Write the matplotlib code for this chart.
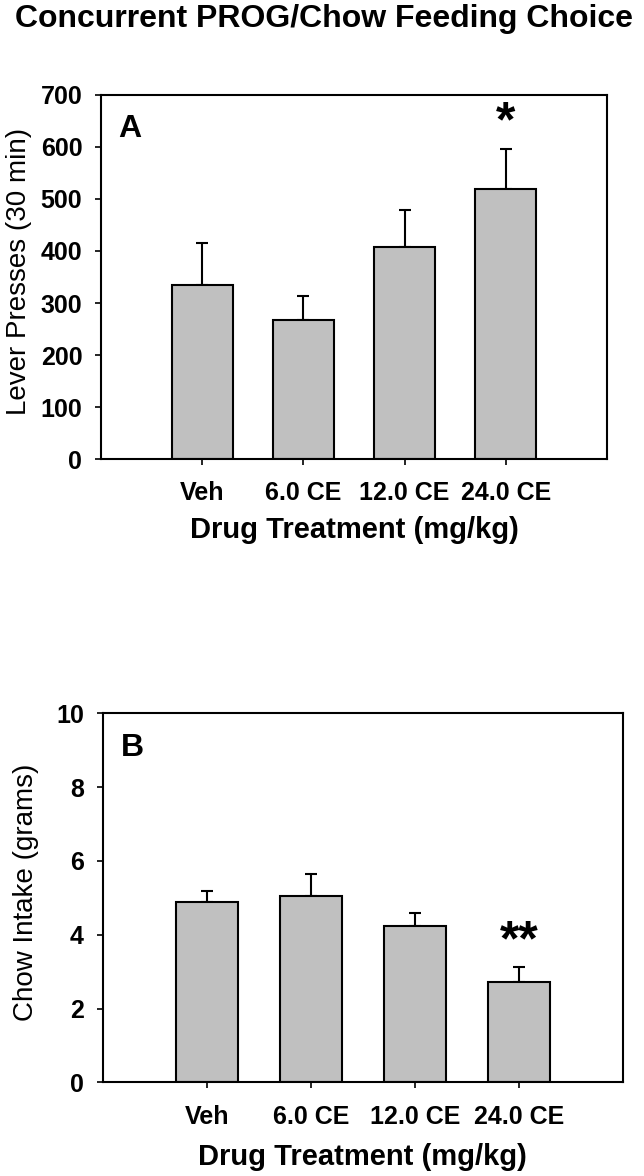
import matplotlib
matplotlib.use('Agg')
import matplotlib.pyplot as plt

plt.rcParams['font.family'] = ['Liberation Sans', 'DejaVu Sans']

# ---------------------------
# data
# ---------------------------
groups = ['Veh', '6.0 CE', '12.0 CE', '24.0 CE']

lever_mean = [335, 267, 408, 519]
lever_sem = [80, 47, 71, 77]

chow_mean = [4.88, 5.05, 4.24, 2.73]
chow_sem = [0.31, 0.59, 0.36, 0.39]

sig_a = ['', '', '', '*']
sig_b = ['', '', '', '**']

bar_color = '#c0c0c0'

fig = plt.figure(figsize=(6.44, 11.76), dpi=100)
fig.text(0.503, 0.984, 'Concurrent PROG/Chow Feeding Choice', ha='center', va='center',
         fontsize=23, fontweight='bold')

ax_a = fig.add_axes([101 / 644, 1 - 459 / 1176, 506 / 644, 364 / 1176])
ax_b = fig.add_axes([102.7 / 644, 1 - 1082.3 / 1176, 520.3 / 644, 369 / 1176])


def draw_panel(ax, means, sems, sig, ymax, ystep, ylabel, letter, tick_pad, ylab_x, xlab_y, star_off):
    x = list(range(len(groups)))
    ax.bar(x, means, width=0.6, color=bar_color, edgecolor='black', linewidth=1.5, zorder=2)
    ax.errorbar(x, means, yerr=[[0] * len(sems), sems], fmt='none', ecolor='black',
                elinewidth=1.5, capsize=4, capthick=1.5, zorder=1)
    ax.set_xlim(-1, 4)
    ax.set_ylim(0, ymax)
    ax.set_yticks(range(0, ymax + 1, ystep))
    ax.set_xticks(x)
    ax.set_xticklabels(groups, fontsize=18, fontweight='bold')
    for lab in ax.get_yticklabels():
        lab.set_fontsize(18)
        lab.set_fontweight('bold')
    ax.tick_params(axis='x', direction='out', length=4.5, width=1.2, pad=tick_pad)
    ax.tick_params(axis='y', direction='out', length=4.5, width=1.2, pad=9)
    for sp in ax.spines.values():
        sp.set_linewidth(1.5)

    ax.set_ylabel(ylabel, fontsize=20)
    ax.yaxis.set_label_coords(ylab_x, 0.515)
    ax.yaxis.label.set_va('center')
    ax.set_xlabel('Drug Treatment (mg/kg)', fontsize=21, fontweight='bold')
    ax.xaxis.set_label_coords(0.5, xlab_y)
    ax.xaxis.label.set_va('center')

    ax.text(0.057, 0.907, letter, transform=ax.transAxes, fontsize=23, fontweight='bold',
            ha='center', va='center')
    for i in range(len(groups)):
        if sig[i]:
            ax.text(x[i], means[i] + sems[i] + star_off, sig[i], ha='center', va='center',
                    fontsize=36, fontweight='bold')


draw_panel(ax_a, lever_mean, lever_sem, sig_a, 700, 100, 'Lever Presses (30 min)', 'A',
           11, -0.162, -0.195, 50)
draw_panel(ax_b, chow_mean, chow_sem, sig_b, 10, 2, 'Chow Intake (grams)', 'B',
           12, -0.148, -0.203, 0.68)

fig.savefig('out.png', dpi=100)
